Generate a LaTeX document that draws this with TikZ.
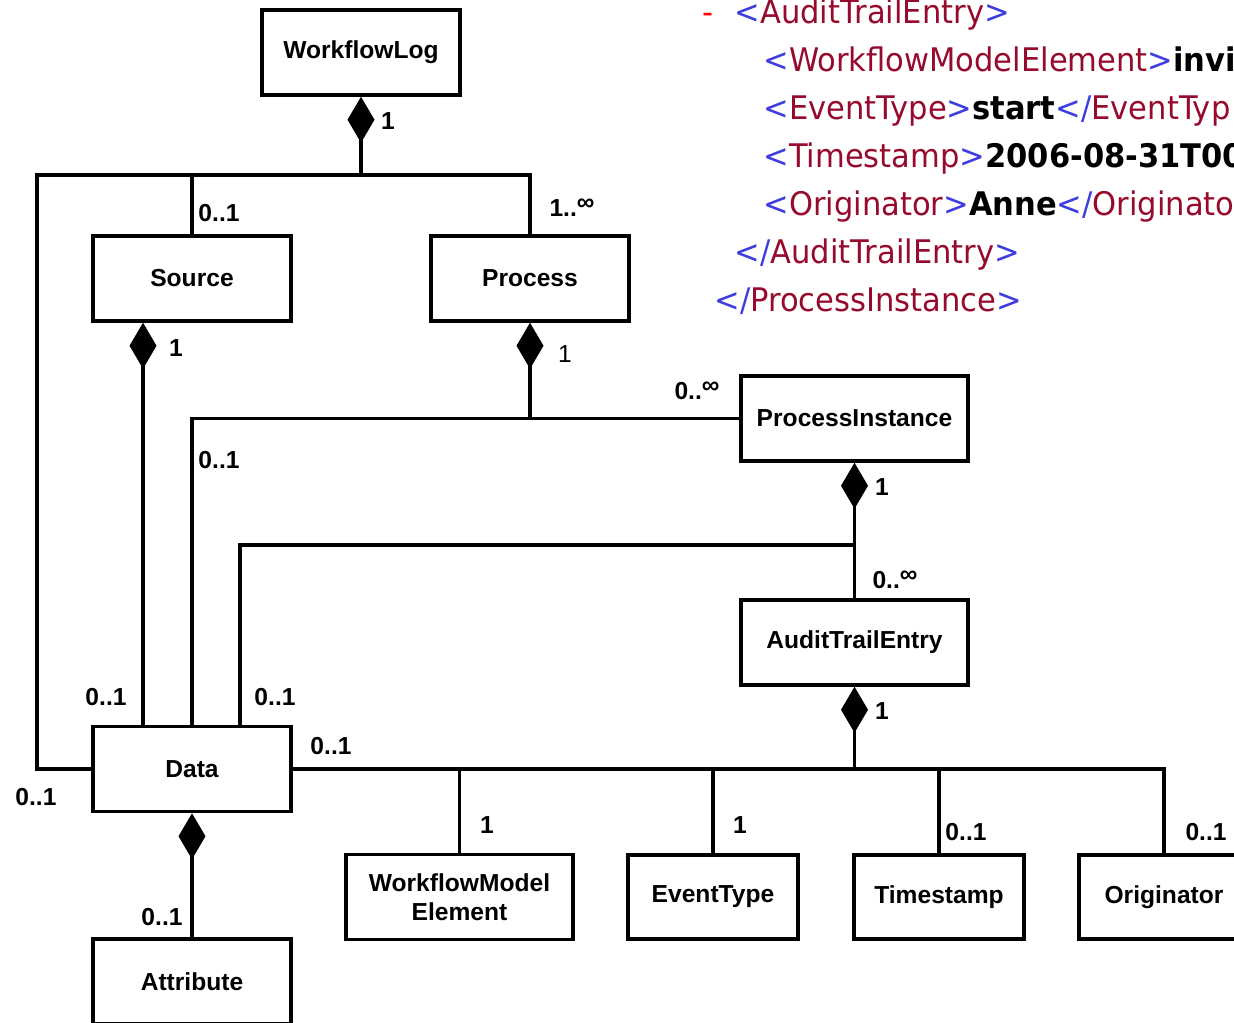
\documentclass[tikz,border=0pt]{standalone}
\usepackage{fontspec}
\setmainfont{Liberation Sans}
\newfontfamily\xmlfont[FakeStretch=0.94]{DejaVu Sans}
\usetikzlibrary{positioning, arrows.meta}
\definecolor{xmlblue}{RGB}{60,60,225}
\definecolor{xmlred}{RGB}{150,10,45}
\newcommand{\xopen}[1]{{\color{xmlblue}<}{\color{xmlred}#1}{\color{xmlblue}>}}
\newcommand{\xclose}[1]{{\color{xmlblue}</}{\color{xmlred}#1}{\color{xmlblue}>}}
\newcommand{\many}[1]{#1..\raisebox{0.25em}{∞}}

\begin{document}
\begin{tikzpicture}[x=0.02cm, y=-0.02cm, line width=1.8pt,
  font=\fontsize{14}{16.5}\selectfont\bfseries,
  cls/.style={draw, line width=2pt, minimum width=3.96cm, minimum height=1.7cm, inner sep=2pt, align=center},
  wide/.style={cls, minimum width=4.54cm},
  leaf/.style={cls, minimum width=3.4cm, minimum height=1.68cm},
  comp/.style={{Diamond[length=0.92cm, width=0.54cm]}-},
  mult/.style={inner sep=0pt},
  xml/.style={anchor=base west, inner sep=0pt, font=\xmlfont\fontsize{18.5}{20}\selectfont}]
\useasboundingbox (0,0) rectangle (1234,1022);
\clip (0,0) rectangle (1234,1022);

% classes
\node (wflog) [cls] at (361,52.5) {WorkflowLog};
\node (source) [cls] at (192,278.5) {Source};
\node (process) [cls] at (530,278.5) {Process};
\node (procinst) [wide] at (854.5,418.5) {ProcessInstance};
\node (ate) [wide] at (854.5,642.5) {AuditTrailEntry};
\node (data) [cls] at (192,769) {Data};
\node (attr) [cls] at (192,981.5) {Attribute};
\node (wme) [wide] at (459.5,897) {WorkflowModel\\Element};
\node (evtype) [leaf] at (713,897) {EventType};
\node (tstamp) [leaf] at (939,897) {Timestamp};
\node (orig) [leaf] at (1164,897) {Originator};

% junctions
\coordinate (bus1) at (wflog.south |- 0,175);
\coordinate (bus3) at (procinst.south |- 0,545);
\coordinate (bus4) at (ate.south |- data.east);

% associations
\draw[comp] (wflog.south) -- (bus1) -| (process.north);
\draw (bus1) -| (source.north);
\draw (bus1) -| (37,769) -- (data.west);
\draw[comp] ([xshift=-0.98cm]source.south) -- ([xshift=-0.98cm]data.north);
\draw[comp] (process.south) -- (process.south |- procinst.west);
\draw (procinst.west) -| (data.north);
\draw[comp] (procinst.south) -- (ate.north);
\draw (bus3) -| ([xshift=0.96cm]data.north);
\draw[comp] (ate.south) -- (bus4);
\draw (data.east) -- (bus4) -| (orig.north);
\foreach \n in {wme, evtype, tstamp}
  \draw (bus4 -| \n.north) -- (\n.north);
\draw[comp] (data.south) -- (attr.north);

% multiplicities
\node (m1) [mult] at (388,121) {1};
\node (m2) [mult] at (219,213) {0..1};
\node (m3) [mult] at (572,208) {\many{1}};
\node (m4) [mult] at (176,348) {1};
\node (m5) [mult] at (565,354) {\mdseries 1};
\node (m6) [mult] at (697,391) {\many{0}};
\node (m7) [mult] at (219,460) {0..1};
\node (m8) [mult] at (882,487) {1};
\node (m9) [mult] at (895,580) {\many{0}};
\node (m10) [mult] at (106,697) {0..1};
\node (m11) [mult] at (275,697) {0..1};
\node (m12) [mult] at (331,746) {0..1};
\node (m13) [mult] at (36,797) {0..1};
\node (m14) [mult] at (882,711) {1};
\node (m15) [mult] at (487,825) {1};
\node (m16) [mult] at (740,825) {1};
\node (m17) [mult] at (966,832) {0..1};
\node (m18) [mult] at (1206,832) {0..1};
\node (m19) [mult] at (162,917) {0..1};

% xml excerpt
\node (xdash) [xml, text=red] at (701,23) {-};
\node (x1) [xml] at (733,23) {\xopen{AuditTrailEntry}};
\node (x2) [xml] at (762,71) {\xopen{WorkflowModelElement}\textbf{invit}};
\node (x3) [xml] at (762,119) {\xopen{EventType}\textbf{start}{\color{xmlblue}</}{\color{xmlred}EventTyp}};
\node (x4) [xml] at (762,167) {\xopen{Timestamp}\textbf{2006-08-31T00}};
\node (x5) [xml] at (762,215) {\xopen{Originator}\textbf{Anne}{\color{xmlblue}</}{\color{xmlred}Originator}};
\node (x6) [xml] at (733,263) {\xclose{AuditTrailEntry}};
\node (x7) [xml] at (713,311) {\xclose{ProcessInstance}};
\end{tikzpicture}
\end{document}
